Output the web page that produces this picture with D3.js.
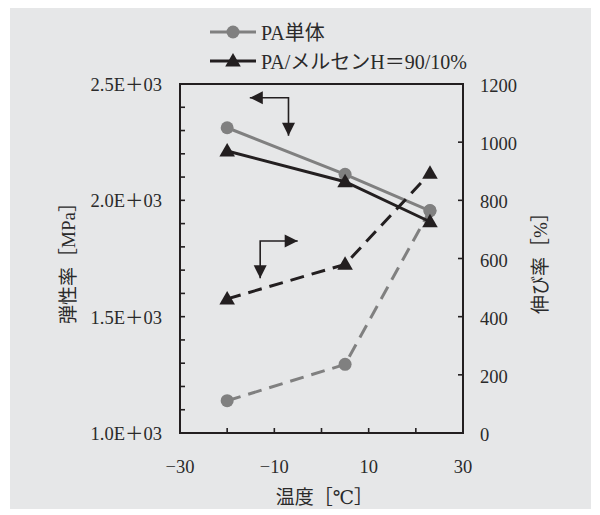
<!DOCTYPE html>
<html>
<head>
<meta charset="utf-8">
<script src="https://cdn.jsdelivr.net/npm/d3@7"></script>
<style>
  html, body { margin: 0; padding: 0; background: #ffffff; }
  svg { display: block; }
</style>
</head>
<body>
<svg id="chart" width="600" height="515"></svg>
<script>
// ---- data ----
const temps = [-20, 5, 23];
const modulusPA = [2312, 2112, 1955];
const modulusBlend = [2212, 2080, 1908];
const elongPA = [111, 236, 765];
const elongBlend = [461, 580, 893];
const seriesNames = ["PA単体", "PA/メルセンH＝90/10%"];
const xTickLabels = [-30, -10, 10, 30];
const leftTickLabels = [1000, 1500, 2000, 2500];
const rightTickLabels = [0, 200, 400, 600, 800, 1000, 1200];
const xTitle = "温度［℃］";
const leftTitle = "弾性率［MPa］";
const rightTitle = "伸び率［%］";
// annotation arrows in data units: [x, y]
const arrowModulus = { tip1: [-15.2, 2441], corner: [-7.0, 2441], tip2: [-7.0, 2278] };
const arrowElong = { tip1: [-13.0, 532], corner: [-13.0, 660], tip2: [-5.05, 660] };

// ---- layout ----
const FONT = "'Liberation Serif', 'Times New Roman', 'DejaVu Serif', 'Noto Sans CJK JP', serif";
const svg = d3.select("#chart");
const plot = { left: 180, right: 463, top: 84, bottom: 433 };
const black = "#231f20", gray = "#808080", textCol = "#2a2a2a";

svg.append("rect").attr("x", 10).attr("y", 8).attr("width", 581).attr("height", 501).attr("fill", "#e6e7e8");

const x = d3.scaleLinear().domain([-30, 30]).range([plot.left, plot.right]);
const yL = d3.scaleLinear().domain([1000, 2500]).range([plot.bottom, plot.top]);
const yR = d3.scaleLinear().domain([0, 1200]).range([plot.bottom, plot.top]);

const fmtSci = v => (v / 1000).toFixed(1) + "E＋03";
const fmtX = v => (v < 0 ? "−" + Math.abs(v) : String(v));

function txt(xp, yp, s, size, anchor) {
  return svg.append("text").attr("x", xp).attr("y", yp).attr("text-anchor", anchor || "middle")
    .attr("dominant-baseline", "central").attr("font-family", FONT).attr("font-size", size)
    .attr("fill", textCol).text(s);
}

// ticks (inward)
const tickLen = 5;
const tk = svg.append("g").attr("stroke", black).attr("stroke-width", 1.6);
d3.range(-30, 31, 10).forEach(v => {
  tk.append("line").attr("x1", x(v)).attr("x2", x(v)).attr("y1", plot.bottom).attr("y2", plot.bottom - tickLen);
});
d3.range(1000, 2501, 100).forEach(v => {
  tk.append("line").attr("x1", plot.left).attr("x2", plot.left + tickLen).attr("y1", yL(v)).attr("y2", yL(v));
});
rightTickLabels.forEach(v => {
  tk.append("line").attr("x1", plot.right).attr("x2", plot.right - tickLen).attr("y1", yR(v)).attr("y2", yR(v));
});

// frame
svg.append("rect").attr("x", plot.left).attr("y", plot.top)
  .attr("width", plot.right - plot.left).attr("height", plot.bottom - plot.top)
  .attr("fill", "none").attr("stroke", black).attr("stroke-width", 2);

// tick labels
const fs = 18.5;
xTickLabels.forEach(v => txt(x(v), 467, fmtX(v), fs, "middle"));
leftTickLabels.forEach(v => txt(162, yL(v) + 1, fmtSci(v), fs, "end"));
rightTickLabels.forEach(v => txt(480, yR(v) + 2, v, fs, "start"));

// axis titles
txt((plot.left + plot.right) / 2 + 3, 497, xTitle, 19, "middle");
txt(0, 0, leftTitle, 19, "middle").attr("transform", `translate(68,${(plot.top + plot.bottom) / 2}) rotate(-90)`);
txt(0, 0, rightTitle, 19, "middle").attr("transform", `translate(540,${(plot.top + plot.bottom) / 2}) rotate(-90)`);

// series
const line = (ys, yScale) => d3.line().x((d, i) => x(temps[i])).y((d, i) => yScale(ys[i]))(ys);
const tri = d3.symbol().type(d3.symbolTriangle).size(105);

function drawSeries(ys, yScale, color, dashed, marker) {
  const g = svg.append("g");
  g.append("path").attr("d", line(ys, yScale)).attr("fill", "none").attr("stroke", color)
    .attr("stroke-width", 3).attr("stroke-dasharray", dashed ? "14,8" : null);
  ys.forEach((v, i) => {
    if (marker === "circle") {
      g.append("circle").attr("cx", x(temps[i])).attr("cy", yScale(v)).attr("r", 6.5).attr("fill", color);
    } else {
      g.append("path").attr("d", tri).attr("transform", `translate(${x(temps[i])},${yScale(v) + 1})`).attr("fill", color);
    }
  });
}
drawSeries(elongPA, yR, gray, true, "circle");
drawSeries(modulusPA, yL, gray, false, "circle");
drawSeries(elongBlend, yR, black, true, "triangle");
drawSeries(modulusBlend, yL, black, false, "triangle");

// annotation arrows
function arrowHead(px, py, dir) {
  const L = 13, W = 6.5;
  let pts;
  if (dir === "left") pts = [[px, py], [px + L, py - W], [px + L, py + W]];
  if (dir === "right") pts = [[px, py], [px - L, py - W], [px - L, py + W]];
  if (dir === "down") pts = [[px, py], [px - W, py - L], [px + W, py - L]];
  svg.append("path").attr("d", "M" + pts.map(p => p.join(",")).join("L") + "Z").attr("fill", black);
}
function drawArrow(a, yScale, d1, d2) {
  const p1 = [x(a.tip1[0]), yScale(a.tip1[1])];
  const pc = [x(a.corner[0]), yScale(a.corner[1])];
  const p2 = [x(a.tip2[0]), yScale(a.tip2[1])];
  svg.append("path").attr("d", `M${p1}L${pc}L${p2}`).attr("fill", "none").attr("stroke", black).attr("stroke-width", 1.6);
  arrowHead(p1[0], p1[1], d1);
  arrowHead(p2[0], p2[1], d2);
}
drawArrow(arrowModulus, yL, "left", "down");
drawArrow(arrowElong, yR, "down", "right");

// legend
const legend = [
  { name: seriesNames[0], color: gray, marker: "circle", y: 32 },
  { name: seriesNames[1], color: black, marker: "triangle", y: 61 }
];
legend.forEach(l => {
  svg.append("line").attr("x1", 210).attr("x2", 256).attr("y1", l.y).attr("y2", l.y)
    .attr("stroke", l.color).attr("stroke-width", 3);
  if (l.marker === "circle") svg.append("circle").attr("cx", 233).attr("cy", l.y).attr("r", 6.5).attr("fill", l.color);
  else svg.append("path").attr("d", tri).attr("transform", `translate(233,${l.y + 1})`).attr("fill", l.color);
  txt(261, l.y + 1, l.name, 20, "start");
});
</script>
</body>
</html>
